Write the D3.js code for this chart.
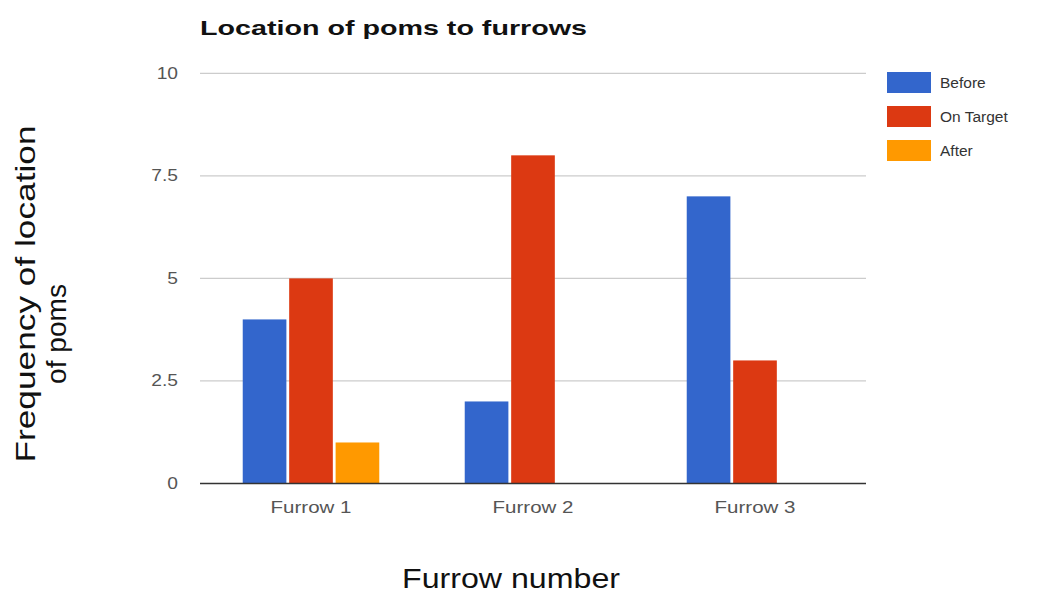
<!DOCTYPE html>
<html>
<head>
<meta charset="utf-8">
<script src="https://cdn.jsdelivr.net/npm/d3@7"></script>
<style>
  body { margin: 0; background: #fff; }
  svg { display: block; font-family: "Liberation Sans", Arial, sans-serif; }
</style>
</head>
<body>
<svg id="chart" width="1042" height="593"></svg>
<script>
/*** Data ***/
var furrows = ["Furrow 1", "Furrow 2", "Furrow 3"];
var seriesNames = ["Before", "On Target", "After"];
var before = [4, 2, 7];
var onTarget = [5, 8, 3];
var after = [1, 0, 0];
var yTicks = [0, 2.5, 5, 7.5, 10];

var colors = ["#3366cc", "#dc3912", "#ff9900"];

// stretch text horizontally (the reference image is a bit widened)
function stretch(sel, k) {
  sel.each(function() {
    var w = this.getComputedTextLength();
    d3.select(this).attr("textLength", w * k).attr("lengthAdjust", "spacingAndGlyphs");
  });
}

/*** Chart ***/
function drawChart() {
  var svg = d3.select("#chart");
  var left = 200, right = 866, top = 73.3, bottom = 483.5;

  var values = [before, onTarget, after];
  var rows = furrows.map((f, i) => ({
    furrow: f,
    vals: seriesNames.map((s, j) => ({ series: s, idx: j, value: values[j][i] }))
  }));

  var x0 = d3.scaleBand()
    .domain(furrows)
    .range([left, right])
    .paddingInner(0.385)
    .paddingOuter(0.1925);
  var x1 = d3.scaleBand()
    .domain(seriesNames)
    .range([0, x0.bandwidth()])
    .paddingInner(0.06);
  var y = d3.scaleLinear().domain([0, 10]).range([bottom, top]);

  // gridlines
  svg.append("g")
    .selectAll("line").data(yTicks.filter(d => d > 0)).enter()
    .append("line")
      .attr("x1", left).attr("x2", right)
      .attr("y1", d => y(d)).attr("y2", d => y(d))
      .attr("stroke", "#cccccc")
      .attr("stroke-width", 1.3);

  // y tick labels
  var yLabels = svg.append("g")
    .selectAll("text").data(yTicks).enter()
    .append("text")
      .attr("x", 178)
      .attr("y", d => y(d) + 5.5)
      .attr("text-anchor", "end")
      .attr("font-size", "16px")
      .attr("fill", "#555")
      .text(d => d);
  stretch(yLabels, 1.2);

  // bars
  var groups = svg.append("g")
    .selectAll("g").data(rows).enter()
    .append("g")
      .attr("transform", d => "translate(" + x0(d.furrow) + ",0)");
  groups.selectAll("rect")
    .data(d => d.vals.filter(v => v.value > 0))
    .enter().append("rect")
      .attr("x", d => x1(d.series))
      .attr("y", d => y(d.value))
      .attr("width", x1.bandwidth())
      .attr("height", d => y(0) - y(d.value))
      .attr("fill", d => colors[d.idx]);

  // baseline
  svg.append("line")
    .attr("x1", left).attr("x2", right)
    .attr("y1", y(0)).attr("y2", y(0))
    .attr("stroke", "#333")
    .attr("stroke-width", 1.3);

  // x labels
  var xLabels = svg.append("g")
    .selectAll("text").data(furrows).enter()
    .append("text")
      .attr("x", d => x0(d) + x0.bandwidth() / 2)
      .attr("y", 513)
      .attr("text-anchor", "middle")
      .attr("font-size", "16px")
      .attr("fill", "#555")
      .text(d => d);
  stretch(xLabels, 1.28);

  // title
  svg.append("text")
    .attr("x", 200).attr("y", 35)
    .attr("font-size", "21px")
    .attr("font-weight", "bold")
    .attr("fill", "#111")
    .attr("textLength", 387)
    .attr("lengthAdjust", "spacingAndGlyphs")
    .text("Location of poms to furrows");

  // legend
  var legend = svg.append("g")
    .selectAll("g").data(seriesNames).enter()
    .append("g")
      .attr("transform", (d, i) => "translate(887," + (72 + i * 34) + ")");
  legend.append("rect")
    .attr("width", 44).attr("height", 21)
    .attr("fill", (d, i) => colors[i]);
  legend.append("text")
    .attr("x", 53).attr("y", 16)
    .attr("font-size", "15.5px")
    .attr("fill", "#333")
    .text(d => d);

  // axis titles
  svg.append("text")
    .attr("x", 511).attr("y", 588)
    .attr("text-anchor", "middle")
    .attr("font-size", "28px")
    .attr("fill", "#111")
    .attr("textLength", 218)
    .attr("lengthAdjust", "spacingAndGlyphs")
    .text("Furrow number");

  var yTitle = svg.append("g")
    .attr("transform", "translate(0,0) rotate(-90)");
  yTitle.append("text")
    .attr("x", -294).attr("y", 35)
    .attr("text-anchor", "middle")
    .attr("font-size", "28px")
    .attr("fill", "#111")
    .attr("textLength", 337)
    .attr("lengthAdjust", "spacingAndGlyphs")
    .text("Frequency of location");
  yTitle.append("text")
    .attr("x", -334).attr("y", 66)
    .attr("text-anchor", "middle")
    .attr("font-size", "28px")
    .attr("fill", "#111")
    .attr("textLength", 100)
    .attr("lengthAdjust", "spacingAndGlyphs")
    .text("of poms");
}

drawChart();
</script>
</body>
</html>
